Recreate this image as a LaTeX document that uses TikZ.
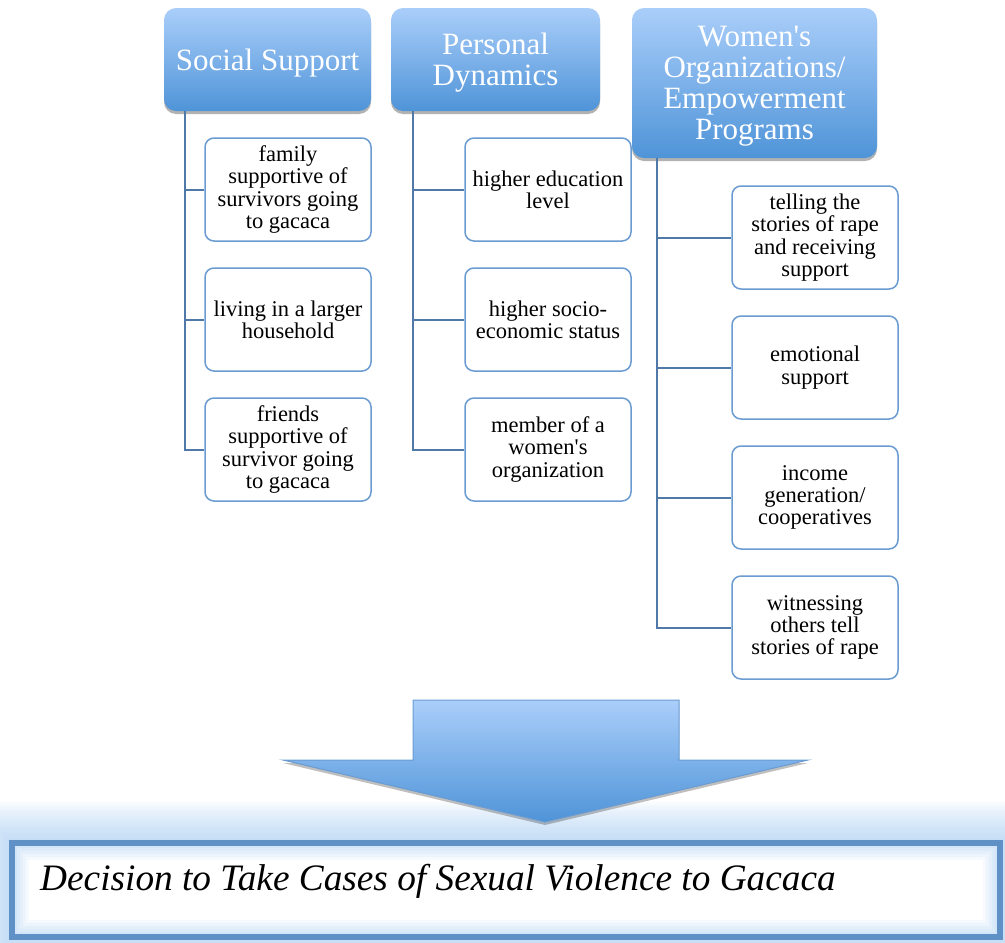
\documentclass[tikz,border=0pt]{standalone}
\usepackage{fontspec}
\setmainfont{Liberation Serif}
\usetikzlibrary{shadows}
\definecolor{hdtop}{HTML}{AACEFA}
\definecolor{hdbot}{HTML}{4F94D8}
\definecolor{boxline}{HTML}{6A9BD1}
\definecolor{connline}{HTML}{4F79A8}
\definecolor{glowc}{HTML}{A9CDF2}
\definecolor{framec}{HTML}{5F90C6}
\newcommand{\apos}{\textquotesingle}
\tikzset{
 header/.style={rounded corners=12pt, top color=hdtop, bottom color=hdbot, draw=none, text=white, align=center, inner sep=0pt,
   font=\fontsize{31}{31}\selectfont, text depth=0pt,
   drop shadow={shadow xshift=0pt, shadow yshift=-3pt, opacity=0.3, fill=black}},
 item/.style={rounded corners=9pt, draw=boxline, line width=1.5pt, fill=white, align=center, inner sep=0pt,
   minimum width=166pt, minimum height=103pt, font=\fontsize{22.5}{22.2}\selectfont},
 conn/.style={draw=connline, line width=2pt},
}
\begin{document}
\begin{tikzpicture}[x=1pt,y=-1pt]
\useasboundingbox (0,0) rectangle (1005,943);
% outer glow of the decision box
\foreach \d in {42,40,...,2}
  \fill[glowc, opacity=0.05] (12-\d,843-\d) rectangle (1000+\d,937+\d);
% headers
\node[header, minimum width=207pt, minimum height=103pt] (h1) at (267.5,59.5) {Social Support};
\node[header, minimum width=209pt, minimum height=103pt] (h2) at (495.5,59.5) {Personal\\Dynamics};
\node[header, minimum width=245pt, minimum height=150pt] (h3) at (754.5,83) {Women\apos s\\Organizations/\\Empowerment\\Programs};
% column 1
\node[item] (a1) at (288,189.5) {family\\supportive of\\survivors going\\to gacaca};
\node[item] (a2) at (288,319.5) {living in a larger\\household};
\node[item] (a3) at (288,449.5) {friends\\supportive of\\survivor going\\to gacaca};
% column 2
\node[item] (b1) at (548,189.5) {higher education\\level};
\node[item] (b2) at (548,319.5) {higher socio-\\economic status};
\node[item] (b3) at (548,449.5) {member of a\\women\apos s\\organization};
% column 3
\node[item] (c1) at (815,237.5) {telling the\\stories of rape\\and receiving\\support};
\node[item] (c2) at (815,367.5) {emotional\\support};
\node[item] (c3) at (815,497.5) {income\\generation/\\cooperatives};
\node[item] (c4) at (815,627.5) {witnessing\\others tell\\stories of rape};
% connectors
\foreach \c in {a1,a2,a3} \draw[conn] ([xshift=21pt]h1.south west) |- (\c.west);
\foreach \c in {b1,b2,b3} \draw[conn] ([xshift=22pt]h2.south west) |- (\c.west);
\foreach \c in {c1,c2,c3,c4} \draw[conn] ([xshift=25pt]h3.south west) |- (\c.west);
% decision box
\node[draw=none, fill=white, minimum width=988pt, minimum height=94pt, inner sep=0pt] (dec) at (506,890) {};
\foreach \d/\o in {4/0.5,7/0.4,10/0.3,13/0.2,16/0.1}
  \draw[glowc, line width=3pt, opacity=\o] ([xshift=\d pt,yshift=-\d pt]dec.north west) rectangle ([xshift=-\d pt,yshift=\d pt]dec.south east);
\draw[framec, line width=6pt] (dec.north west) rectangle (dec.south east);
\node[anchor=west, inner sep=0pt, font=\fontsize{37.3}{40}\selectfont\itshape] (dtext) at (40,881) {Decision to Take Cases of Sexual Violence to Gacaca};
% big arrow
\path[top color=hdtop, bottom color=hdbot, draw=boxline, line width=1pt,
      drop shadow={shadow xshift=0pt, shadow yshift=-3pt, opacity=0.25, fill=black}]
  (413,700) -- (679,700) -- (679,760) -- (808,760) -- (545,822) -- (283,760) -- (413,760) -- cycle;
\end{tikzpicture}
\end{document}
